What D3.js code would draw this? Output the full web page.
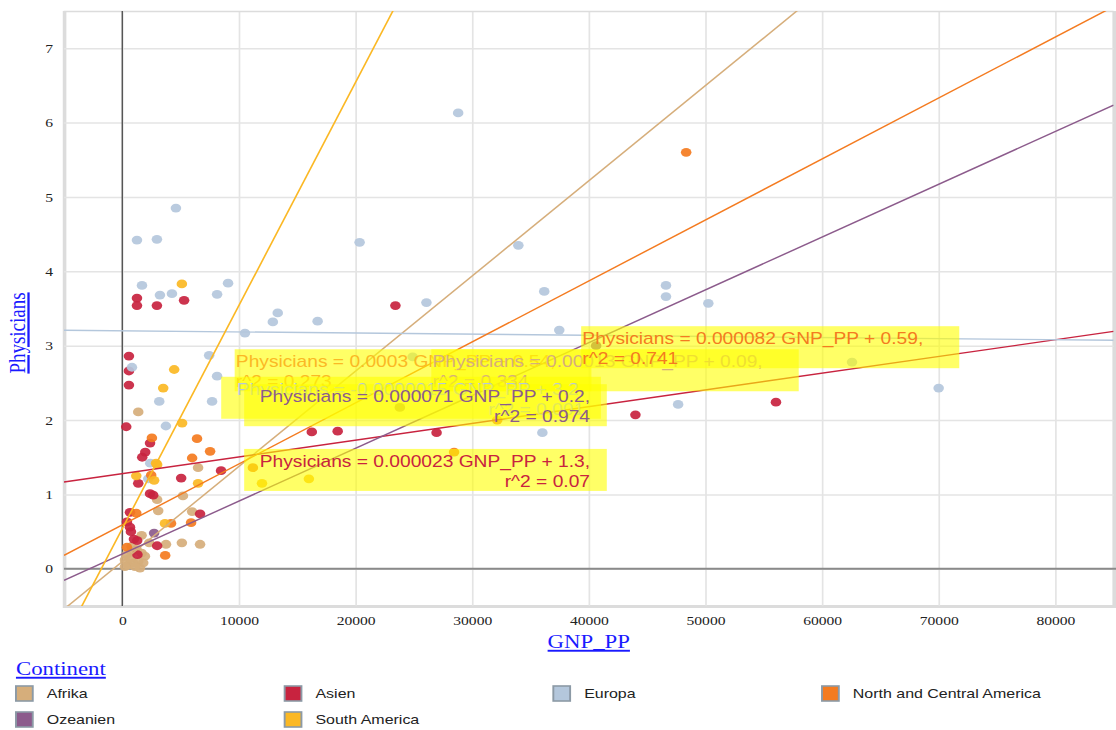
<!DOCTYPE html>
<html>
<head>
<meta charset="utf-8">
<script src="https://cdn.jsdelivr.net/npm/d3@7/dist/d3.min.js"></script>
<style>
body { margin: 0; background: #fff; }
</style>
</head>
<body>
<svg id="chart"></svg>
<script>
// continents and their colours
const continents = ["Afrika", "Asien", "Europa", "North and Central America", "Ozeanien", "South America"];
const colors = ["#d6ae7b", "#c8233f", "#b4c7dc", "#f47b20", "#8c5b8c", "#fbb824"];

// [GNP_PP, Physicians]
const afrika = [[1370, 2.11], [6500, 1.36], [2990, 0.93], [5200, 0.98], [3080, 0.78], [5990, 0.77],
    [1660, 0.45], [2310, 0.35], [3750, 0.33], [5110, 0.35], [6670, 0.33], [376, 0.19], [800, 0.23],
    [1230, 0.26], [1660, 0.21], [1940, 0.17], [1370, 0.10], [940, 0.08], [510, 0.05], [230, 0.12],
    [1800, 0.08], [660, 0.14], [1520, 0.01], [1090, 0.03], [230, 0.03], [800, 0.30]];
const asien = [[1260, 3.64], [1260, 3.54], [2970, 3.54], [5300, 3.61], [23420, 3.54], [570, 2.86],
    [570, 2.66], [570, 2.47], [340, 1.91], [2380, 1.69], [1970, 1.57], [1710, 1.50], [8470, 1.32],
    [1370, 1.15], [5050, 1.22], [2380, 1.01], [2650, 0.99], [660, 0.76], [6670, 0.74], [660, 0.56],
    [740, 0.50], [400, 0.63], [1280, 0.38], [2990, 0.31], [1000, 0.40], [16250, 1.84], [18470, 1.85],
    [26950, 1.83], [44000, 2.07], [56050, 2.24], [1300, 0.19]];
const europa = [[28800, 6.13], [4600, 4.85], [1260, 4.42], [2970, 4.43], [20350, 4.39], [33960, 4.35],
    [1690, 3.81], [9070, 3.84], [3230, 3.68], [4260, 3.70], [8130, 3.69], [13330, 3.44], [12910, 3.32],
    [16750, 3.33], [26080, 3.58], [36180, 3.73], [46620, 3.81], [46620, 3.66], [50250, 3.57],
    [37470, 3.21], [10520, 3.17], [7450, 2.87], [8130, 2.59], [7700, 2.25], [3170, 2.25], [3740, 1.92],
    [830, 2.71], [36020, 1.83], [47660, 2.21], [70000, 2.43], [62570, 2.78], [24900, 2.85], [2400, 1.42],
    [2230, 1.21]];
const northCentralAmerica = [[2540, 1.76], [6410, 1.75], [7530, 1.58], [5990, 1.49], [2480, 1.26],
    [1200, 0.75], [4180, 0.61], [5900, 0.62], [3680, 0.18], [400, 0.29], [48350, 5.60], [32150, 2.0],
    [28450, 1.57], [11200, 1.36]];
const ozeanien = [[2730, 0.48], [23800, 2.17], [40630, 3.0]];
const southAmerica = [[5110, 3.83], [4450, 2.68], [3510, 2.43], [5130, 1.96], [2900, 1.42], [1200, 1.25],
    [2730, 1.19], [6500, 1.15], [3660, 0.61], [11980, 1.15], [16000, 1.21], [2990, 1.40]];
const seriesData = [afrika, asien, europa, northCentralAmerica, ozeanien, southAmerica];

// regression lines: Physicians = slope * GNP_PP + intercept
const slopes = [0.000128, 0.0000225, -0.0000015, 0.000082, 0.000071, 0.0003];
const intercepts = [0.097, 1.28, 3.2, 0.59, 0.2, 0.54];
const equations = [
    "Physicians = 0.00013 GNP_PP + 0.09,",
    "Physicians = 0.000023 GNP_PP + 1.3,",
    "Physicians = -0.0000015 GNP_PP + 3.2,",
    "Physicians = 0.000082 GNP_PP + 0.59,",
    "Physicians = 0.000071 GNP_PP + 0.2,",
    "Physicians = 0.0003 GNP_PP + 0.54,"
];
const r2Labels = ["r^2 = 0.334", "r^2 = 0.07", "r^2 = 0.001", "r^2 = 0.741", "r^2 = 0.974", "r^2 = 0.273"];
// label anchors in data units and alignment of second line
const labelAnchors = [[26600, 2.71], [11790, 1.37], [9820, 2.34], [39450, 3.02], [11790, 2.24], [9740, 2.71]];
const labelAlign = ["left", "right", "right", "left", "right", "left"];
const labelOrder = [5, 0, 2, 4, 1, 3];

const xTicks = [0, 10000, 20000, 30000, 40000, 50000, 60000, 70000, 80000];
const yTicks = [0, 1, 2, 3, 4, 5, 6, 7];

// the reference is stretched sideways, so draw in a narrower box and stretch it
const W = 930, H = 730;
const svg = d3.select("#chart")
    .attr("width", 1116)
    .attr("height", 730)
    .attr("viewBox", `0 0 ${W} ${H}`)
    .attr("preserveAspectRatio", "none");

const plot = {left: 53.3, right: 928, top: 11, bottom: 606};

const x = d3.scaleLinear().domain([-5000, 85000]).range([plot.left, plot.right]);
const y = d3.scaleLinear().domain([-0.5, 7.5]).range([plot.bottom, plot.top]);

svg.append("clipPath").attr("id", "clip")
    .append("rect")
    .attr("x", plot.left).attr("y", plot.top)
    .attr("width", plot.right - plot.left).attr("height", plot.bottom - plot.top);

// axes with grid lines
const xAxis = d3.axisBottom(x).tickValues(xTicks).tickSize(-(plot.bottom - plot.top)).tickPadding(9.3).tickFormat(d3.format("d"));
const yAxis = d3.axisLeft(y).tickValues(yTicks).tickSize(-(plot.right - plot.left)).tickPadding(9).tickFormat(d3.format("d"));

const xg = svg.append("g").attr("transform", `translate(0,${plot.bottom})`).call(xAxis);
const yg = svg.append("g").attr("transform", `translate(${plot.left},0)`).call(yAxis);

[xg, yg].forEach(g => {
    g.selectAll(".tick line").attr("stroke", "#e4e4e4").attr("stroke-width", 1.4);
    g.selectAll(".tick text")
        .attr("font-family", "Liberation Serif, serif")
        .attr("font-size", 13)
        .attr("fill", "#222");
});
xg.select(".domain").attr("stroke", "#dcdcdc").attr("stroke-width", 3);
yg.select(".domain").attr("stroke", "#dcdcdc").attr("stroke-width", 1.5);

// zero lines
svg.append("line")
    .attr("x1", x(0)).attr("x2", x(0))
    .attr("y1", plot.top).attr("y2", plot.bottom)
    .attr("stroke", "#555").attr("stroke-width", 1.2);
svg.append("line")
    .attr("x1", plot.left).attr("x2", W)
    .attr("y1", y(0)).attr("y2", y(0))
    .attr("stroke", "#8a8a8a").attr("stroke-width", 2);

// points
const pts = svg.append("g").attr("clip-path", "url(#clip)");
seriesData.forEach((data, i) => {
    pts.selectAll(null)
        .data(data)
        .enter()
        .append("circle")
        .attr("cx", d => x(d[0]))
        .attr("cy", d => y(d[1]))
        .attr("r", 4.4)
        .attr("fill", colors[i])
        .attr("fill-opacity", 0.92);
});

// regression lines
const lines = svg.append("g").attr("clip-path", "url(#clip)");
continents.forEach((c, i) => {
    const xs = x.domain();
    lines.append("line")
        .attr("x1", x(xs[0])).attr("y1", y(slopes[i] * xs[0] + intercepts[i]))
        .attr("x2", x(xs[1])).attr("y2", y(slopes[i] * xs[1] + intercepts[i]))
        .attr("stroke", colors[i])
        .attr("stroke-width", 1.4);
});

// regression labels
const labels = svg.append("g");
labelOrder.forEach(i => {
    const lx = x(labelAnchors[i][0]);
    const ly = y(labelAnchors[i][1]);
    const g = labels.append("g");
    const box = g.append("rect");
    const t1 = g.append("text")
        .attr("x", lx).attr("y", ly)
        .attr("font-family", "Liberation Sans, Arial, sans-serif")
        .attr("font-size", 16)
        .attr("fill", colors[i])
        .text(equations[i]);
    const w = t1.node().getComputedTextLength();
    const t2 = g.append("text")
        .attr("y", ly + 20)
        .attr("font-family", "Liberation Sans, Arial, sans-serif")
        .attr("font-size", 16)
        .attr("fill", colors[i])
        .text(r2Labels[i]);
    let padL, padR;
    if (labelAlign[i] === "right") {
        t2.attr("x", lx + w).attr("text-anchor", "end");
        padL = 13; padR = 14;
    } else {
        t2.attr("x", lx);
        padL = 1; padR = 30;
    }
    box.attr("x", lx - padL).attr("y", ly - 18)
        .attr("width", w + padL + padR).attr("height", 42)
        .attr("fill", "#ffff00").attr("fill-opacity", 0.6);
});

// axis titles
svg.append("text")
    .attr("x", (plot.left + plot.right) / 2).attr("y", 648)
    .attr("text-anchor", "middle")
    .attr("font-family", "Liberation Serif, serif")
    .attr("font-size", 19)
    .attr("fill", "#1a1aff")
    .attr("text-decoration", "underline")
    .text("GNP_PP");

svg.append("text")
    .attr("transform", `translate(21,333) rotate(-90)`)
    .attr("text-anchor", "middle")
    .attr("font-family", "Liberation Serif, serif")
    .attr("font-size", 19)
    .attr("fill", "#1a1aff")
    .attr("text-decoration", "underline")
    .text("Physicians");

// legend
svg.append("text")
    .attr("x", 13.3).attr("y", 675)
    .attr("font-family", "Liberation Serif, serif")
    .attr("font-size", 19)
    .attr("fill", "#1a1aff")
    .attr("text-decoration", "underline")
    .text("Continent");

const legend = svg.append("g");
continents.forEach((c, i) => {
    const col = i % 4, row = Math.floor(i / 4);
    const lx = 13.3 + col * 223.9;
    const ly = 686 + row * 26;
    legend.append("rect")
        .attr("x", lx).attr("y", ly)
        .attr("width", 14).attr("height", 15)
        .attr("fill", colors[i])
        .attr("stroke", "#8c9aa6").attr("stroke-width", 1.6);
    legend.append("text")
        .attr("x", lx + 25.7).attr("y", ly + 12)
        .attr("font-family", "Liberation Sans, Arial, sans-serif")
        .attr("font-size", 13.3)
        .attr("fill", "#222")
        .text(c);
});
</script>
</body>
</html>
